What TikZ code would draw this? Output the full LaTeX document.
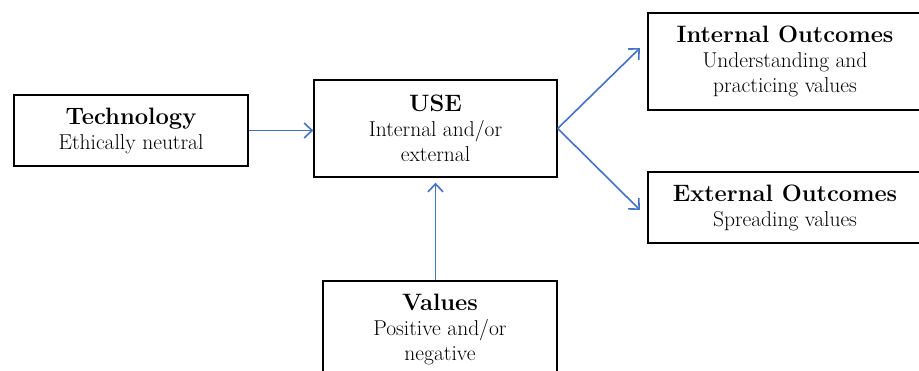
\documentclass[tikz,border=0pt]{standalone}
\usepackage{fontspec}
\usetikzlibrary{arrows.meta}
\definecolor{arrowblue}{RGB}{68,114,196}
\newcommand{\boxtitle}[1]{{\fontsize{23.7}{26}\selectfont\bfseries #1}}
\tikzset{
  blk/.style={draw, line width=1.4pt, align=center, inner sep=0pt,
    font=\fontsize{21.5}{25}\selectfont},
  arr/.style={draw=arrowblue, line width=1.6pt,
    -{Straight Barb[length=8pt,width=15pt,line width=1.6pt]}}
}
\begin{document}
\begin{tikzpicture}[x=1pt,y=-1pt]
\useasboundingbox (0,0) rectangle (919,370);
\node[blk, minimum width=234, minimum height=71] (tech) at (131,130.5) {\boxtitle{Technology}\\Ethically neutral};
\node[blk, minimum width=243, minimum height=97] (use) at (435.5,128.5) {\boxtitle{USE}\\Internal and/or\\external};
\node[blk, minimum width=274, minimum height=97] (int) at (785,61.5) {\boxtitle{Internal Outcomes}\\Understanding and\\practicing values};
\node[blk, minimum width=274, minimum height=71] (ext) at (785,207.5) {\boxtitle{External Outcomes}\\Spreading values};
\node[blk, minimum width=234, minimum height=97] (val) at (440,329.5) {\boxtitle{Values}\\Positive and/or\\negative};
% free ends of the two outcome arrows
\coordinate (inttip) at (640,48);
\coordinate (exttip) at (640,210);
\draw[arr] (tech.east) -- (tech.east -| use.west);
\draw[arr, shorten >=5pt] (use.south |- val.north) -- (use.south);
\draw[arr] (use.east) -- (inttip);
\draw[arr] (use.east) -- (exttip);
\end{tikzpicture}
\end{document}
